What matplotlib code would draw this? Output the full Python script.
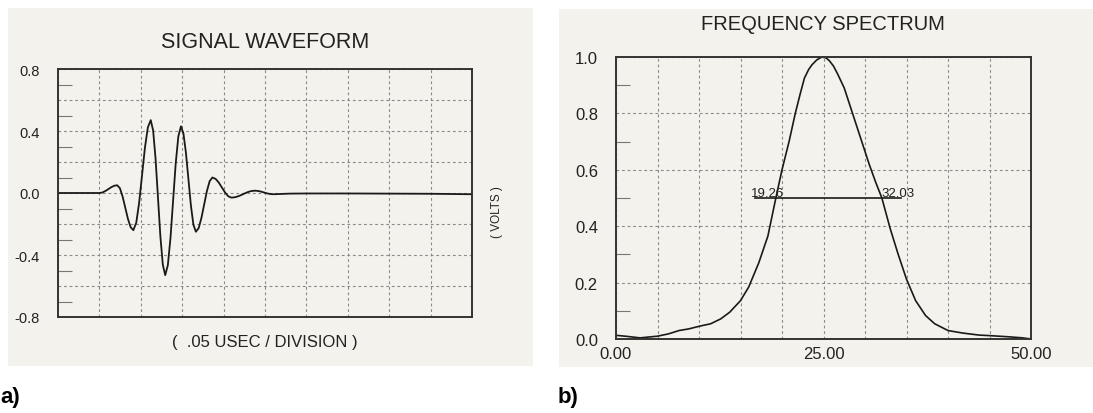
import matplotlib
matplotlib.use("Agg")
import matplotlib.pyplot as plt
from matplotlib.patches import Rectangle
from matplotlib.ticker import FixedLocator, FuncFormatter

plt.rcParams['font.family'] = ['Liberation Sans', 'DejaVu Sans']

# ---------------- data ----------------
# Signal waveform: time in divisions (0.05 usec / division), amplitude in volts
wave_t = [0.0, 0.5, 1.0, 1.072, 1.143, 1.215, 1.287, 1.358,
          1.43, 1.495, 1.56, 1.625, 1.69, 1.755,
          1.82, 1.89, 1.96, 2.03, 2.10, 2.17,
          2.24, 2.298, 2.357, 2.415, 2.473, 2.532,
          2.59, 2.653, 2.717, 2.78, 2.843, 2.907,
          2.97, 3.03, 3.09, 3.15, 3.21, 3.27,
          3.33, 3.397, 3.463, 3.53, 3.597, 3.663,
          3.73, 3.807, 3.883, 3.96, 4.037, 4.113,
          4.19, 4.283, 4.377, 4.47, 4.563, 4.657,
          4.75, 4.825, 4.9, 4.975, 5.05, 5.125,
          5.2, 5.6, 6.0, 7.0, 8.0, 9.0, 10.0]
wave_v = [0.0, 0.0, 0.0, 0.0033, 0.0125, 0.025, 0.0375, 0.0467,
          0.05, 0.031, -0.0225, -0.095, -0.1675, -0.2206,
          -0.24, -0.192, -0.0625, 0.115, 0.2925, 0.4224,
          0.47, 0.403, 0.22, -0.03, -0.28, -0.463,
          -0.53, -0.466, -0.29, -0.05, 0.19, 0.366,
          0.43, 0.384, 0.26, 0.09, -0.08, -0.204,
          -0.25, -0.227, -0.1625, -0.075, 0.0125, 0.0766,
          0.10, 0.091, 0.0675, 0.035, 0.0025, -0.0213,
          -0.03, -0.027, -0.0188, -0.0075, 0.0038, 0.012,
          0.015, 0.0135, 0.0093, 0.0035, -0.0023, -0.0065,
          -0.008, -0.004, -0.003, -0.003, -0.004, -0.005, -0.008]

# Frequency spectrum (normalised magnitude)
freq = [0.0, 1.1, 2.9, 5.0, 6.3, 7.6, 8.8, 10.0, 11.4, 12.6, 13.7, 15.0,
        16.0, 17.2, 18.3, 19.26, 20.0, 20.85, 21.6, 22.2, 22.7, 23.2, 23.6,
        24.2, 24.8, 25.3, 25.7, 26.2, 26.7, 27.5, 28.5, 29.5, 30.5, 31.3,
        32.03, 33.05, 34.0, 35.0, 36.1, 37.3, 38.4, 40.0, 41.8, 43.7, 45.0,
        47.2, 49.0, 50.0]
spec = [0.013, 0.010, 0.004, 0.010, 0.018, 0.030, 0.036, 0.045, 0.054, 0.071,
        0.095, 0.136, 0.185, 0.27, 0.365, 0.5, 0.60, 0.70, 0.80, 0.87, 0.925,
        0.955, 0.972, 0.99, 1.0, 0.997, 0.987, 0.968, 0.94, 0.89, 0.80, 0.71,
        0.62, 0.555, 0.5, 0.39, 0.30, 0.212, 0.136, 0.083, 0.054, 0.030,
        0.021, 0.014, 0.012, 0.008, 0.004, 0.0]

half_level = 0.5
half_lo_label, half_hi_label = "19.26", "32.03"
half_line_x = [16.75, 34.3]

# ---------------- figure ----------------
W, H = 1093, 414
fig = plt.figure(figsize=(W / 100, H / 100), dpi=100)
fig.patch.set_facecolor('white')

def px_rect(x0, y0, x1, y1):
    return [x0 / W, 1 - y1 / H, (x1 - x0) / W, (y1 - y0) / H]

bg = '#f3f2ec'
for (x0, y0, x1, y1) in [(8, 9, 533, 367), (559, 10, 1093, 368)]:
    l, b, w, h = px_rect(x0, y0, x1, y1)
    fig.patches.append(Rectangle((l, b), w, h, transform=fig.transFigure,
                                 facecolor=bg, edgecolor='none', zorder=-10))

grid_kw = dict(color='#8a8a8a', linestyle=(0, (2.5, 2.5)), linewidth=0.8)
frame_color = '#333333'
text_color = '#222222'

def style_axes(ax, fs):
    ax.set_facecolor('none')
    ax.set_zorder(1)
    for s in ax.spines.values():
        s.set_color(frame_color)
        s.set_linewidth(1.4)
    ax.grid(True, which='major', **grid_kw)
    ax.tick_params(which='major', length=0, labelsize=fs, colors=text_color, pad=13)
    ax.tick_params(which='minor', axis='y', direction='in', length=10,
                   width=0.8, color='#777777')
    ax.tick_params(which='minor', axis='x', length=0)

# ---- (a) signal waveform ----
axa = fig.add_axes(px_rect(58, 70, 472, 318))
axa.plot(wave_t, wave_v, color='#1a1a1a', linewidth=1.3)
axa.set_xlim(0, 10)
axa.set_ylim(-0.8, 0.8)
axa.xaxis.set_major_locator(FixedLocator([i for i in range(11)]))
axa.xaxis.set_major_formatter(FuncFormatter(lambda v, p: ''))
ya_major = [-0.8, -0.6, -0.4, -0.2, 0.0, 0.2, 0.4, 0.6, 0.8]
axa.yaxis.set_major_locator(FixedLocator(ya_major))
axa.yaxis.set_major_formatter(FuncFormatter(
    lambda v, p: f"{v:.1f}" if abs(round(v / 0.4) * 0.4 - v) < 1e-6 else ''))
axa.yaxis.set_minor_locator(FixedLocator([-0.7, -0.5, -0.3, -0.1, 0.1, 0.3, 0.5, 0.7]))
style_axes(axa, 10.5)
fig.text(265 / W, 1 - 42 / H, "SIGNAL WAVEFORM", ha='center', va='center',
         fontsize=15.5, color=text_color)
fig.text(265 / W, 1 - 343 / H, "(  .05 USEC / DIVISION )", ha='center', va='center',
         fontsize=12, color=text_color)
fig.text(497 / W, 1 - 212 / H, "( VOLTS )", ha='center', va='center', rotation=90,
         fontsize=8.5, color=text_color)
fig.text(0 / W, 1 - 398 / H, "a)", ha='left', va='center', fontsize=16,
         fontweight='bold', color='black')

# ---- (b) frequency spectrum ----
axb = fig.add_axes(px_rect(616, 58, 1031, 340))
axb.plot(freq, spec, color='#1a1a1a', linewidth=1.2)
axb.set_xlim(0, 50)
axb.set_ylim(0, 1.0)
axb.xaxis.set_major_locator(FixedLocator([0, 5, 10, 15, 20, 25, 30, 35, 40, 45, 50]))
axb.xaxis.set_major_formatter(FuncFormatter(
    lambda v, p: f"{v:.2f}" if v in (0, 25, 50) else ''))
axb.yaxis.set_major_locator(FixedLocator([0.0, 0.2, 0.4, 0.6, 0.8, 1.0]))
axb.yaxis.set_major_formatter(FuncFormatter(lambda v, p: f"{v:.1f}"))
axb.yaxis.set_minor_locator(FixedLocator([0.1, 0.3, 0.5, 0.7, 0.9]))
style_axes(axb, 12)
axb.tick_params(axis='x', which='major', pad=5)
axb.plot(half_line_x, [half_level, half_level], color='#1a1a1a', linewidth=1.2)
axb.text(16.27, half_level + 0.008, half_lo_label, ha='left', va='baseline',
         fontsize=9.5, color=text_color)
axb.text(31.93, half_level + 0.008, half_hi_label, ha='left', va='baseline',
         fontsize=9.5, color=text_color)
fig.text(823 / W, 1 - 25 / H, "FREQUENCY SPECTRUM", ha='center', va='center',
         fontsize=14.5, color=text_color)
fig.text(558 / W, 1 - 398 / H, "b)", ha='left', va='center', fontsize=16,
         fontweight='bold', color='black')

fig.savefig("out.png", dpi=100)
